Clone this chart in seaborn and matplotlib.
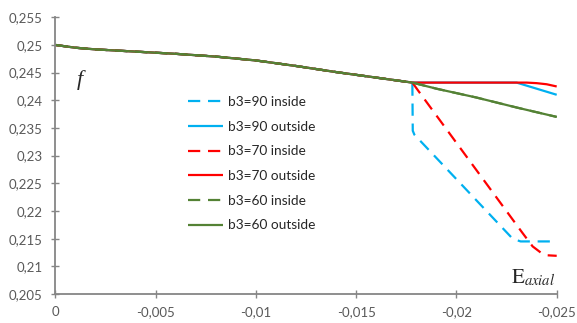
import numpy as np
import pandas as pd
import matplotlib
matplotlib.use('Agg')
import matplotlib.pyplot as plt
import seaborn as sns

# shared part of all curves (before the split point)
x_common = [0.0, -0.001, -0.002, -0.004, -0.006, -0.008, -0.010, -0.012, -0.014, -0.016, -0.0178]
y_common = [0.2500, 0.2495, 0.2492, 0.2488, 0.2484, 0.2479, 0.2472, 0.2462, 0.2451, 0.2441, 0.2432]

# tails after the split point
x_b90_in = [-0.01782, -0.0179, -0.0228, -0.0232, -0.025]
y_b90_in = [0.2345, 0.2338, 0.2150, 0.2145, 0.2145]
x_b90_out = [-0.0200, -0.0230, -0.0250]
y_b90_out = [0.2432, 0.2432, 0.2410]
x_b70_in = [-0.0181, -0.0233, -0.0238, -0.0242, -0.0245, -0.025]
y_b70_in = [0.2417, 0.2160, 0.2136, 0.2125, 0.2120, 0.2119]
x_b70_out = [-0.0200, -0.0235, -0.0240, -0.0245, -0.0250]
y_b70_out = [0.2432, 0.2432, 0.2431, 0.2429, 0.2425]
x_b60 = [-0.019, -0.021, -0.023, -0.025]
y_b60 = [0.2421, 0.2405, 0.2387, 0.2370]

labels = ['b3=90 inside', 'b3=90 outside', 'b3=70 inside', 'b3=70 outside',
          'b3=60 inside', 'b3=60 outside']
xticks = [0, -0.005, -0.01, -0.015, -0.02, -0.025]
xtick_labels = ['0', '-0,005', '-0,01', '-0,015', '-0,02', '-0,025']
yticks = [0.205, 0.21, 0.215, 0.22, 0.225, 0.23, 0.235, 0.24, 0.245, 0.25, 0.255]
ytick_labels = ['0,205', '0,21', '0,215', '0,22', '0,225', '0,23', '0,235', '0,24',
                '0,245', '0,25', '0,255']

BLUE = '#00B0F0'
RED = '#FF0000'
GREEN = '#548235'
GRAY = '#868686'

series = [
    (labels[0], x_b90_in, y_b90_in, BLUE, True),
    (labels[1], x_b90_out, y_b90_out, BLUE, False),
    (labels[2], x_b70_in, y_b70_in, RED, True),
    (labels[3], x_b70_out, y_b70_out, RED, False),
    (labels[4], x_b60, y_b60, GREEN, True),
    (labels[5], x_b60, y_b60, GREEN, False),
]

sns.set_theme(style='white')
plt.rcParams['font.family'] = ['Lato', 'DejaVu Sans']
plt.rcParams['mathtext.fontset'] = 'stix'

fig = plt.figure(figsize=(5.77, 3.23), dpi=100)
ax = fig.add_axes([55.5 / 577, 29 / 323, (556.7 - 55.5) / 577, (294 - 17.3) / 323])

for name, xs, ys, col, dashed in series:
    df = pd.DataFrame({'x': x_common + xs, 'y': y_common + ys})
    sns.lineplot(data=df, x='x', y='y', ax=ax, color=col, label=name,
                 sort=False, estimator=None, linewidth=1.6)
    l = ax.get_lines()[-1]
    if dashed:
        l.set_dashes((5.5, 3.5))
    l.set_solid_capstyle('butt')

ax.set_xlim(0, -0.025)
ax.set_ylim(0.205, 0.255)
ax.set_xticks(xticks)
ax.set_xticklabels(xtick_labels)
ax.set_yticks(yticks)
ax.set_yticklabels(ytick_labels)
ax.set_xlabel('')
ax.set_ylabel('')
for s in ['top', 'right']:
    ax.spines[s].set_visible(False)
for s in ['left', 'bottom']:
    ax.spines[s].set_color(GRAY)
    ax.spines[s].set_linewidth(1.3)
ax.tick_params(axis='both', direction='inout', length=6, width=1, color=GRAY,
               labelsize=9.5, labelcolor='#595959')
ax.tick_params(axis='y', pad=6.5, left=True)
ax.tick_params(axis='x', pad=5.5, bottom=True)

ax.text(80 / 577, 1 - 80 / 323, 'f', transform=fig.transFigure, fontsize=16,
        fontstyle='italic', family='Liberation Serif', ha='center', va='center')
ax.text(511 / 577, 1 - 283 / 323, r'$\mathrm{E}_{axial}$', transform=fig.transFigure,
        fontsize=15, ha='left', va='baseline')

ax.legend(loc='upper left', bbox_to_anchor=(188 / 577, 1 - 96 / 323),
          bbox_transform=fig.transFigure, frameon=False, fontsize=9.8,
          handlelength=2.6, handletextpad=0.35, labelspacing=0.93,
          borderaxespad=0, borderpad=0)

fig.savefig('out.png', dpi=100)
